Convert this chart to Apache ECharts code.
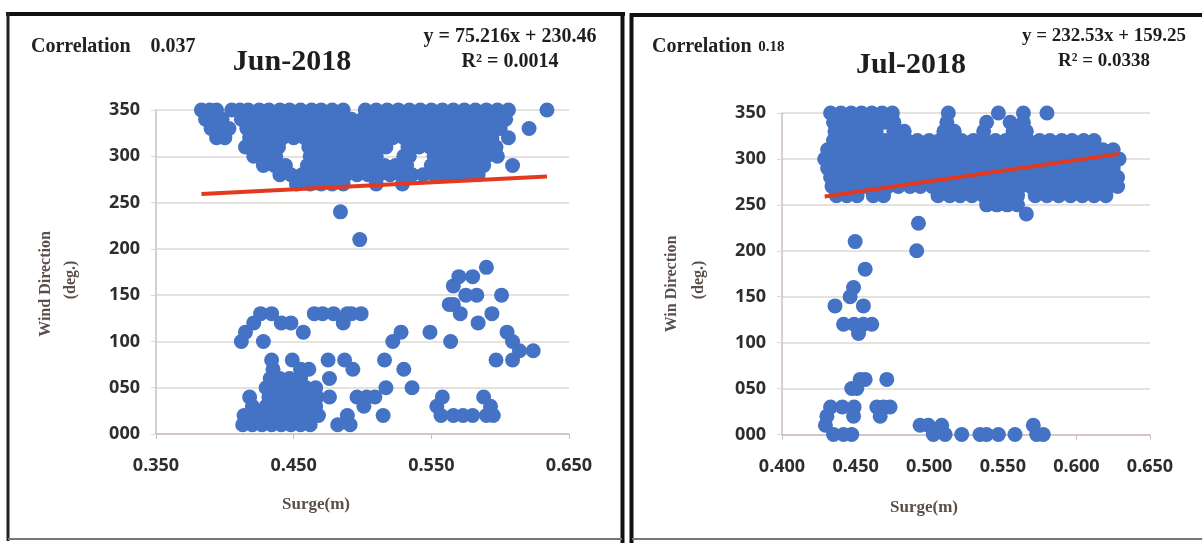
<!DOCTYPE html>
<html><head><meta charset="utf-8">
<script src="https://cdn.jsdelivr.net/npm/echarts@6/dist/echarts.min.js"></script>
<style>html,body{margin:0;padding:0;background:#fff}#c{width:1202px;height:543px}</style>
</head><body><div id="c"></div>
<script>
// ---------- DATA ----------
const junTitle = 'Jun-2018';
const julTitle = 'Jul-2018';
const junCorrelation = '0.037';
const julCorrelation = '0.18';
const junEquation = 'y = 75.216x + 230.46';
const julEquation = 'y = 232.53x + 159.25';
const junR2 = 'R\u00B2 = 0.0014';
const julR2 = 'R\u00B2 = 0.0338';
const junSlope = 75.216, junIntercept = 230.46;
const julSlope = 232.53, julIntercept = 159.25;
const junXTicks = [0.35, 0.65, 0.1];
const julXTicks = [0.40, 0.65, 0.05];
const yTicks = [0, 350, 50];

const junUpper = [
[0.383,350],[0.389,350],[0.394,350],[0.405,350],[0.411,350],[0.417,350],[0.425,350],[0.432,350],[0.440,350],[0.447,350],[0.455,350],[0.463,350],[0.470,350],[0.478,350],[0.486,350],[0.502,350],[0.510,350],[0.518,350],[0.526,350],[0.534,350],[0.542,350],[0.550,350],[0.558,350],[0.566,350],[0.574,350],[0.582,350],[0.590,350],[0.598,350],[0.606,350],[0.634,350],
[0.386,340],[0.392,340],[0.398,340],[0.412,340],[0.420,340],[0.428,340],[0.436,340],[0.444,340],[0.452,340],[0.460,340],[0.468,340],[0.476,340],[0.484,340],[0.492,340],[0.500,340],[0.508,340],[0.516,340],[0.524,340],[0.532,340],[0.540,340],[0.548,340],[0.556,340],[0.564,340],[0.572,340],[0.580,340],[0.588,340],[0.596,340],[0.604,340],
[0.390,330],[0.396,330],[0.403,330],[0.416,330],[0.424,330],[0.432,330],[0.440,330],[0.448,330],[0.456,330],[0.464,330],[0.472,330],[0.480,330],[0.488,330],[0.496,330],[0.504,330],[0.512,330],[0.520,330],[0.528,330],[0.536,330],[0.544,330],[0.552,330],[0.560,330],[0.568,330],[0.576,330],[0.584,330],[0.592,330],[0.600,330],[0.621,330],
[0.394,320],[0.400,320],[0.418,320],[0.426,320],[0.434,320],[0.442,320],[0.450,320],[0.458,320],[0.466,320],[0.474,320],[0.482,320],[0.490,320],[0.498,320],[0.506,320],[0.514,320],[0.522,320],[0.530,320],[0.538,320],[0.546,320],[0.554,320],[0.562,320],[0.570,320],[0.578,320],[0.586,320],[0.594,320],[0.606,320],
[0.415,310],[0.423,310],[0.431,310],[0.439,310],[0.461,310],[0.469,310],[0.477,310],[0.485,310],[0.493,310],[0.501,310],[0.509,310],[0.517,310],[0.533,310],[0.541,310],[0.549,310],[0.557,310],[0.565,310],[0.573,310],[0.581,310],[0.589,310],[0.597,310],
[0.421,300],[0.429,300],[0.437,300],[0.462,300],[0.470,300],[0.478,300],[0.486,300],[0.494,300],[0.502,300],[0.510,300],[0.530,300],[0.534,300],[0.552,300],[0.558,300],[0.566,300],[0.574,300],[0.582,300],[0.590,300],[0.598,300],
[0.428,290],[0.436,290],[0.444,290],[0.460,290],[0.468,290],[0.476,290],[0.484,290],[0.492,290],[0.500,290],[0.508,290],[0.516,290],[0.524,290],[0.532,290],[0.550,290],[0.556,290],[0.564,290],[0.572,290],[0.580,290],[0.588,290],[0.609,290],
[0.440,280],[0.448,280],[0.456,280],[0.464,280],[0.472,280],[0.480,280],[0.488,280],[0.496,280],[0.504,280],[0.512,280],[0.520,280],[0.528,280],[0.536,280],[0.544,280],[0.552,280],[0.560,280],[0.568,280],[0.576,280],[0.584,280],
[0.452,270],[0.462,270],[0.470,270],[0.478,270],[0.486,270],[0.510,270],[0.529,270],
[0.484,240],[0.498,210]
];

const junLower = [
[0.413,10],[0.420,10],[0.427,10],[0.434,10],[0.441,10],[0.448,10],[0.455,10],[0.462,10],
[0.414,20],[0.421,20],[0.428,20],[0.435,20],[0.442,20],[0.449,20],[0.456,20],[0.463,20],[0.468,20],
[0.420,30],[0.430,30],[0.437,30],[0.444,30],[0.451,30],[0.458,30],[0.466,30],
[0.418,40],[0.432,40],[0.439,40],[0.446,40],[0.453,40],[0.460,40],[0.467,40],[0.476,40],
[0.430,50],[0.437,50],[0.444,50],[0.452,50],[0.459,50],[0.466,50],
[0.433,60],[0.440,60],[0.447,60],[0.455,60],[0.476,60],
[0.435,70],[0.455,70],[0.461,70],[0.493,70],
[0.434,80],[0.449,80],[0.475,80],[0.487,80],[0.516,80],
[0.412,100],[0.415,110],[0.428,100],[0.421,120],[0.426,130],[0.434,130],[0.441,120],[0.448,120],[0.457,110],[0.465,130],[0.471,130],[0.479,130],[0.486,120],[0.489,130],[0.492,130],[0.499,130],
[0.482,10],[0.489,20],[0.491,10],[0.496,40],[0.501,30],[0.503,40],[0.509,40],[0.515,20],[0.517,50],[0.530,70],[0.536,50],[0.522,100],[0.528,110],[0.549,110],[0.564,100],
[0.566,160],[0.570,170],[0.580,170],[0.590,180],[0.566,140],[0.575,150],[0.583,150],[0.563,140],[0.571,130],[0.584,120],[0.594,130],[0.601,150],
[0.605,110],[0.609,100],[0.614,90],[0.624,90],[0.609,80],[0.597,80],
[0.558,40],[0.554,30],[0.557,20],[0.566,20],[0.573,20],[0.580,20],[0.588,40],[0.593,30],[0.590,20],[0.595,20]
];

const julUpper = [
[0.433,350],[0.440,350],[0.447,350],[0.454,350],[0.461,350],[0.468,350],[0.475,350],[0.513,350],[0.547,350],[0.564,350],[0.580,350],
[0.435,340],[0.442,340],[0.449,340],[0.456,340],[0.463,340],[0.470,340],[0.476,340],[0.512,340],[0.539,340],[0.555,340],[0.564,340],
[0.436,330],[0.443,330],[0.450,330],[0.457,330],[0.464,330],[0.476,330],[0.483,330],[0.510,330],[0.517,330],[0.537,330],[0.557,330],[0.566,330],
[0.435,320],[0.442,320],[0.449,320],[0.456,320],[0.463,320],[0.470,320],[0.477,320],[0.485,320],[0.492,320],[0.500,320],[0.507,320],[0.515,320],[0.522,320],[0.530,320],[0.537,320],[0.545,320],[0.552,320],[0.560,320],[0.567,320],[0.575,320],[0.582,320],[0.590,320],[0.597,320],[0.605,320],[0.612,320],
[0.431,310],[0.438,310],[0.446,310],[0.453,310],[0.461,310],[0.468,310],[0.476,310],[0.483,310],[0.491,310],[0.498,310],[0.506,310],[0.513,310],[0.521,310],[0.528,310],[0.536,310],[0.543,310],[0.551,310],[0.558,310],[0.566,310],[0.573,310],[0.581,310],[0.588,310],[0.596,310],[0.603,310],[0.611,310],[0.618,310],[0.625,310],
[0.429,300],[0.436,300],[0.444,300],[0.451,300],[0.459,300],[0.466,300],[0.474,300],[0.481,300],[0.489,300],[0.496,300],[0.504,300],[0.511,300],[0.519,300],[0.526,300],[0.534,300],[0.541,300],[0.549,300],[0.556,300],[0.564,300],[0.571,300],[0.579,300],[0.586,300],[0.594,300],[0.601,300],[0.609,300],[0.616,300],[0.624,300],[0.629,300],
[0.431,290],[0.438,290],[0.446,290],[0.453,290],[0.461,290],[0.468,290],[0.476,290],[0.483,290],[0.491,290],[0.498,290],[0.506,290],[0.513,290],[0.521,290],[0.528,290],[0.536,290],[0.543,290],[0.551,290],[0.558,290],[0.566,290],[0.573,290],[0.581,290],[0.588,290],[0.596,290],[0.603,290],[0.611,290],[0.618,290],[0.625,290],
[0.433,280],[0.440,280],[0.448,280],[0.455,280],[0.463,280],[0.470,280],[0.478,280],[0.485,280],[0.493,280],[0.500,280],[0.508,280],[0.515,280],[0.523,280],[0.530,280],[0.538,280],[0.545,280],[0.553,280],[0.560,280],[0.568,280],[0.575,280],[0.583,280],[0.590,280],[0.598,280],[0.605,280],[0.613,280],[0.620,280],[0.628,280],
[0.434,270],[0.442,270],[0.449,270],[0.457,270],[0.464,270],[0.472,270],[0.479,270],[0.487,270],[0.494,270],[0.502,270],[0.509,270],[0.517,270],[0.524,270],[0.532,270],[0.539,270],[0.547,270],[0.554,270],[0.562,270],[0.569,270],[0.577,270],[0.584,270],[0.592,270],[0.599,270],[0.607,270],[0.614,270],[0.622,270],[0.628,270],
[0.437,260],[0.444,260],[0.451,260],[0.462,260],[0.469,260],[0.506,260],[0.514,260],[0.521,260],[0.529,260],[0.537,260],[0.545,260],[0.552,260],[0.560,260],[0.572,260],[0.580,260],[0.588,260],[0.596,260],[0.604,260],[0.612,260],[0.620,260],
[0.539,250],[0.546,250],[0.553,250],[0.560,250],[0.566,240]
];

const julLower = [
[0.4497,210],[0.4927,230],[0.4915,200],[0.4565,180],[0.4486,160],[0.4463,150],[0.436,140],[0.4553,140],
[0.4418,120],[0.449,120],[0.4553,120],[0.461,120],[0.452,110],
[0.4531,60],[0.4565,60],[0.4712,60],[0.4474,50],[0.4508,50],
[0.433,30],[0.441,30],[0.449,30],[0.4644,30],[0.4734,30],[0.469,30],[0.4667,20],[0.4305,20],[0.4486,20],[0.4295,10],
[0.435,0],[0.4418,0],[0.4474,0],
[0.4938,10],[0.4994,10],[0.5028,0],[0.5085,10],[0.5108,0],[0.5221,0],[0.5345,0],[0.539,0],[0.547,0],[0.5583,0],[0.5707,10],[0.573,0],[0.5775,0]
];

// ---------- CHART ----------
const junPoints = junUpper.concat(junLower);
const julPoints = julUpper.concat(julLower);
function trend(points, a, b) {
  const xs = points.map(p => p[0]);
  const lo = Math.min.apply(null, xs), hi = Math.max.apply(null, xs);
  return [[lo, a * lo + b], [hi, a * hi + b]];
}
const serif = "'Liberation Serif', 'Times New Roman', serif";
const sans = "'Open Sans', sans-serif";
const gridColor = '#dcd8d6';
const axisColor = '#cdbfbb';
function xAx(idx, t) {
  return { gridIndex: idx, type: 'value', min: t[0], max: t[1], interval: t[2],
    axisLine: { show: true, lineStyle: { color: axisColor, width: 1.5 } },
    axisTick: { show: true, length: 5, lineStyle: { color: axisColor } },
    splitLine: { show: false },
    axisLabel: { margin: 23, color: '#2e2e2e', fontFamily: sans, fontWeight: 'bold', fontSize: 18,
      formatter: v => v.toFixed(3) } };
}
function yAx(idx) {
  return { gridIndex: idx, type: 'value', min: yTicks[0], max: yTicks[1], interval: yTicks[2],
    axisLine: { show: true, lineStyle: { color: axisColor, width: 1.5 } },
    axisTick: { show: true, length: 5, lineStyle: { color: gridColor } },
    splitLine: { show: true, lineStyle: { color: gridColor, width: 1.5 } },
    axisLabel: { margin: 16, color: '#2e2e2e', fontFamily: sans, fontWeight: 'bold', fontSize: 18,
      formatter: v => String(v).padStart(3, '0') } };
}
const dotColor = '#4472C4';
const lineColor = '#e3391f';
function txt(x, y, text, size, align, extra) {
  return Object.assign({ type: 'text', x: x, y: y, silent: true, z: 100,
    style: { text: text, font: 'bold ' + size + 'px ' + serif, fill: '#1e1e1e', align: align || 'center', verticalAlign: 'middle' } }, extra || {});
}
const nameColor = '#5a4f4a';
const option = {
  animation: false,
  backgroundColor: '#ffffff',
  grid: [
    { left: 156, top: 110, width: 413, height: 324 },
    { left: 782, top: 113, width: 368, height: 321.5 }
  ],
  xAxis: [xAx(0, junXTicks), xAx(1, julXTicks)],
  yAxis: [yAx(0), yAx(1)],
  series: [
    { type: 'scatter', xAxisIndex: 0, yAxisIndex: 0, data: junPoints, symbolSize: 15, clip: false,
      itemStyle: { color: dotColor, opacity: 1 } },
    { type: 'line', xAxisIndex: 0, yAxisIndex: 0, data: trend(junPoints, junSlope, junIntercept), symbol: 'none',
      lineStyle: { color: lineColor, width: 4 }, z: 5 },
    { type: 'scatter', xAxisIndex: 1, yAxisIndex: 1, data: julPoints, symbolSize: 15, clip: false,
      itemStyle: { color: dotColor, opacity: 1 } },
    { type: 'line', xAxisIndex: 1, yAxisIndex: 1, data: trend(julPoints, julSlope, julIntercept), symbol: 'none',
      lineStyle: { color: lineColor, width: 4 }, z: 5 }
  ],
  graphic: [
    // panel frames
    { type: 'line', shape: { x1: 6, y1: 14, x2: 625, y2: 14 }, style: { stroke: '#111', lineWidth: 4 } },
    { type: 'line', shape: { x1: 8, y1: 12, x2: 8, y2: 541 }, style: { stroke: '#222', lineWidth: 3 } },
    { type: 'line', shape: { x1: 622.5, y1: 12, x2: 622.5, y2: 543 }, style: { stroke: '#111', lineWidth: 4 } },
    { type: 'line', shape: { x1: 8, y1: 539, x2: 622, y2: 539 }, style: { stroke: '#777', lineWidth: 2 } },
    { type: 'line', shape: { x1: 631.5, y1: 13, x2: 631.5, y2: 543 }, style: { stroke: '#111', lineWidth: 4 } },
    { type: 'line', shape: { x1: 630, y1: 15, x2: 1202, y2: 15 }, style: { stroke: '#111', lineWidth: 4 } },
    { type: 'line', shape: { x1: 632, y1: 539, x2: 1202, y2: 539 }, style: { stroke: '#777', lineWidth: 2 } },
    // left panel texts
    { type: 'text', x: 31, y: 47, z: 100, style: { text: 'Correlation    ' + junCorrelation, font: 'bold 20px ' + serif, fill: '#222', verticalAlign: 'middle' } },
    txt(292, 62, junTitle, 30),
    txt(510, 37, junEquation, 20),
    txt(510, 62, junR2, 20),
    txt(46, 284, 'Wind Direction', 16, 'center', { rotation: Math.PI / 2 }),
    txt(71, 280, '(deg.)', 16, 'center', { rotation: Math.PI / 2 }),
    txt(316, 505, 'Surge(m)', 17),
    // right panel texts
    { type: 'text', x: 652, y: 47, z: 100, style: { text: '{a|Correlation}  {b|' + julCorrelation + '}',
      rich: { a: { font: 'bold 20px ' + serif, fill: '#222' }, b: { font: 'bold 15px ' + serif, fill: '#222' } }, verticalAlign: 'middle' } },
    txt(911, 65, julTitle, 30),
    txt(1104, 36, julEquation, 19),
    txt(1104, 61, julR2, 19),
    txt(672, 284, 'Win Direction', 16, 'center', { rotation: Math.PI / 2 }),
    txt(699, 280, '(deg.)', 16, 'center', { rotation: Math.PI / 2 }),
    txt(924, 508, 'Surge(m)', 17)
  ]
};
option.graphic.forEach(g => { if (g.type === 'text' && /Direction|deg|Surge/.test(g.style.text)) g.style.fill = nameColor; });
const chart = echarts.init(document.getElementById('c'));
chart.setOption(option);
</script>
</body></html>
